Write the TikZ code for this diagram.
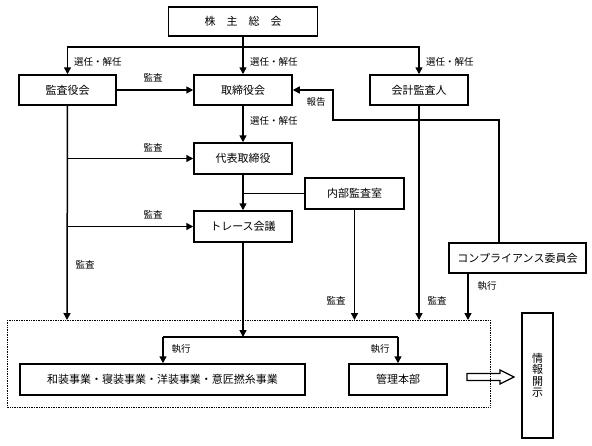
\documentclass[tikz,border=0pt]{standalone}
\usepackage{fontspec}
\setmainfont{Noto Sans CJK JP}
\usetikzlibrary{arrows.meta}
\begin{document}
\begin{tikzpicture}[x=1pt,y=-1pt,
  box/.style={draw,line width=1.5pt,rectangle,inner sep=0pt,font=\fontsize{11}{11}\selectfont},
  lbl/.style={font=\fontsize{9.5}{9.5}\selectfont,inner sep=0pt},
  ln/.style={line width=1.5pt},
  arr/.style={line width=1.5pt,-{Triangle[length=7pt,width=7pt]}}]
\useasboundingbox (0,0) rectangle (592,445);
% boxes
\node[box,minimum width=149pt,minimum height=29pt] (sh) at (243,21.5) {株　主　総　会};
\node[box,minimum width=97pt,minimum height=30pt] (ksy) at (67.5,90) {監査役会};
\node[box,minimum width=98pt,minimum height=30pt] (tr) at (243,90) {取締役会};
\node[box,minimum width=98pt,minimum height=30pt] (kk) at (419,90) {会計監査人};
\node[box,minimum width=98pt,minimum height=31pt] (dh) at (243,158.5) {代表取締役};
\node[box,minimum width=98pt,minimum height=31pt] (tc) at (243,226.5) {トレース会議};
\node[box,minimum width=99pt,minimum height=31pt] (nb) at (354.5,193.5) {内部監査室};
\node[box,minimum width=137pt,minimum height=30pt] (cp) at (517.5,258) {コンプライアンス委員会};
\node[box,minimum width=285pt,minimum height=31pt] (ws) at (162.5,379.5) {和装事業・寝装事業・洋装事業・意匠撚糸事業};
\node[box,minimum width=98pt,minimum height=31pt] (km) at (398,379.5) {管理本部};
\node[box,minimum width=31pt,minimum height=125pt,align=center,font=\fontsize{11}{11.5}\selectfont] (jh) at (537.5,375.5) {情\\報\\開\\示};
% dotted group
\draw[line width=1pt,dash pattern=on 1pt off 0.7pt] (7,320) rectangle (490,407);
\coordinate (gtop1) at (67,320);
\coordinate (gtop2) at (354.5,320);
\coordinate (gtop3) at (419,320);
\coordinate (gtop4) at (468,320);
% top distribution
\coordinate (j1) at (243,47);
\draw[arr] (sh.south) -- (tr.north);
\draw[arr] (j1) -| (ksy.north);
\draw[arr] (j1) -| (kk.north);
\draw[arr] (ksy.east) -- (tr.west);
% report line
\coordinate (r1) at (499,243);
\coordinate (r2) at (333,120);
\draw[arr] (r1) |- (r2) |- (tr.east);
% central chain
\draw[arr] (tr.south) -- (dh.north);
\draw[arr] (dh.south) -- (tc.north);
\coordinate (b1) at (243,193.5);
\draw[ln] (b1) -- (nb.west);
% auditor line
\draw[arr] (ksy.south) -- (gtop1);
\coordinate (a1) at (67,158.5);
\coordinate (a2) at (67,226.5);
\draw[arr] (a1) -- (dh.west);
\draw[arr] (a2) -- (tc.west);
\draw[arr] (nb.south) -- (gtop2);
\draw[arr] (kk.south) -- (gtop3);
\draw[arr] (cp.south -| gtop4) -- (gtop4);
% execution
\coordinate (e0) at (243,337);
\coordinate (e1) at (163,337);
\coordinate (e2) at (398,337);
\draw[arr] (tc.south) -- (e0);
\draw[ln] (e1) -- (e2);
\draw[arr] (e1) -- (e1 |- ws.north);
\draw[arr] (e2) -- (km.north);
% hollow arrow
\draw[line width=1.2pt] (467,373.5) -- (500,373.5) -- (500,370) -- (514,377) -- (500,384) -- (500,380.5) -- (467,380.5) -- cycle;
% labels
\node[lbl,anchor=west] at (74,62) {選任・解任};
\node[lbl,anchor=west] at (250,62) {選任・解任};
\node[lbl,anchor=west] at (426,62) {選任・解任};
\node[lbl,anchor=west] at (250,121) {選任・解任};
\node[lbl] at (153,78) {監査};
\node[lbl] at (153,148) {監査};
\node[lbl] at (153,215) {監査};
\node[lbl] at (85,265) {監査};
\node[lbl] at (316,102) {報告};
\node[lbl] at (336,301) {監査};
\node[lbl] at (437,301) {監査};
\node[lbl] at (487,286) {執行};
\node[lbl] at (181,349) {執行};
\node[lbl] at (380,349) {執行};
\end{tikzpicture}
\end{document}
